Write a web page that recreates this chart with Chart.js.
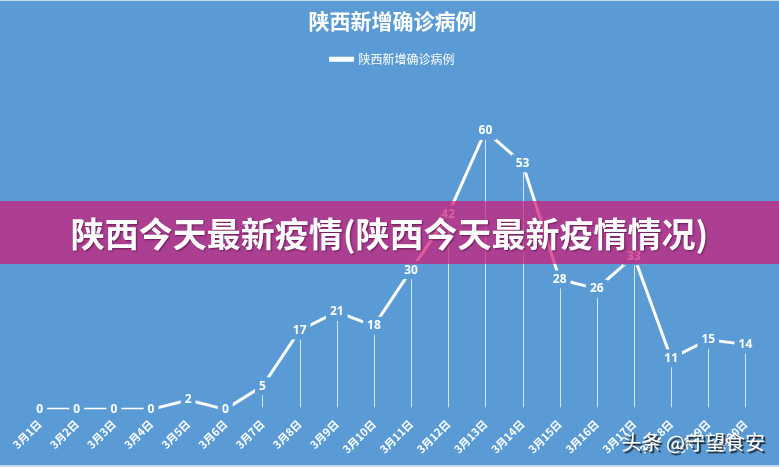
<!DOCTYPE html>
<html>
<head>
<meta charset="utf-8">
<script src="https://cdn.jsdelivr.net/npm/chart.js@4.4.0/dist/chart.umd.min.js"></script>
<style>
  html, body { margin: 0; padding: 0; background: #5b9bd5; }
  #wrap { position: relative; width: 779px; height: 467px; }
  #banner {
    position: absolute; left: 0; top: 201px; width: 779px; height: 63px;
    background: rgba(208, 24, 118, 0.7);
    color: #fff; font: bold 34px "Noto Sans CJK SC", sans-serif;
    text-align: center; line-height: 63px;
    text-shadow: 1px 1px 2px rgba(60, 0, 40, 0.6);
  }
  #mark {
    position: absolute; right: 14px; top: 427px;
    color: #fff; font: 20px "Noto Sans CJK SC", sans-serif;
    text-shadow: 2px 2px 1px #222;
  }
  .edge { position: absolute; left: 0; width: 779px; height: 2px; background: #c9d9ec; }
</style>
</head>
<body>
<div id="wrap">
  <canvas id="myChart" width="779" height="467"></canvas>
  <div class="edge" style="top:0;height:1px"></div>
  <div class="edge" style="top:465px"></div>
  <div id="banner">陕西今天最新疫情(陕西今天最新疫情情况)</div>
  <div id="mark">头条 @守望食安</div>
</div>
<script>
const days = ['3月1日', '3月2日', '3月3日', '3月4日', '3月5日', '3月6日', '3月7日', '3月8日', '3月9日', '3月10日',
              '3月11日', '3月12日', '3月13日', '3月14日', '3月15日', '3月16日', '3月17日', '3月18日', '3月19日', '3月20日'];
const newCases = [0, 0, 0, 0, 2, 0, 5, 17, 21, 18, 30, 42, 60, 53, 28, 26, 33, 11, 15, 14];

const bg = '#5b9bd5';

// thin white drop lines from each point to the bottom
const dropLines = {
    id: 'dropLines',
    beforeDatasetsDraw(chart) {
        const ctx = chart.ctx;
        const meta = chart.getDatasetMeta(0);
        const bottom = chart.scales.y.getPixelForValue(0) - 2;
        ctx.save();
        ctx.strokeStyle = 'rgba(255,255,255,0.75)';
        ctx.lineWidth = 1;
        meta.data.forEach((pt, i) => {
            if (newCases[i] <= 0) return;
            ctx.beginPath();
            ctx.moveTo(Math.round(pt.x) + 0.5, pt.y);
            ctx.lineTo(Math.round(pt.x) + 0.5, bottom);
            ctx.stroke();
        });
        ctx.restore();
    }
};

// value labels centred on the points, with a box in the background colour
const valueLabels = {
    id: 'valueLabels',
    afterDatasetsDraw(chart) {
        const ctx = chart.ctx;
        const meta = chart.getDatasetMeta(0);
        ctx.save();
        ctx.font = 'bold 12px "Noto Sans", sans-serif';
        ctx.textAlign = 'center';
        ctx.textBaseline = 'middle';
        meta.data.forEach((pt, i) => {
            const txt = String(newCases[i]);
            const w = ctx.measureText(txt).width;
            ctx.fillStyle = bg;
            ctx.fillRect(pt.x - w / 2 - 4, pt.y - 9, w + 8, 18);
            ctx.fillStyle = '#fff';
            ctx.fillText(txt, pt.x, pt.y);
        });
        ctx.restore();
    }
};

const ctx = document.getElementById('myChart').getContext('2d');
window.myChart = new Chart(ctx, {
    type: 'line',
    data: {
        labels: days,
        datasets: [{
            label: '陕西新增确诊病例',
            data: newCases,
            borderColor: '#fff',
            backgroundColor: '#fff',
            borderWidth: 3,
            pointRadius: 0,
            fill: false,
            tension: 0
        }]
    },
    options: {
        responsive: false,
        animation: false,
        layout: { padding: { left: 21, right: 15, top: 0, bottom: 11 } },
        plugins: {
            title: {
                display: true,
                text: '陕西新增确诊病例',
                color: '#fff',
                font: { size: 21, weight: 'bold', family: '"Noto Sans CJK SC", sans-serif' },
                padding: { top: 8, bottom: 8 }
            },
            legend: {
                labels: {
                    color: '#fff',
                    boxWidth: 22,
                    boxHeight: 2,
                    padding: 12,
                    font: { size: 12, family: '"Noto Sans CJK SC", sans-serif' }
                }
            },
            tooltip: { enabled: false }
        },
        scales: {
            x: {
                offset: true,
                grid: { display: false },
                border: { display: false },
                ticks: {
                    color: '#fff',
                    minRotation: 45,
                    maxRotation: 45,
                    padding: 0,
                    font: { size: 11, weight: 'bold', family: '"Noto Sans CJK SC", sans-serif' }
                }
            },
            y: {
                display: false,
                min: 0,
                max: 72
            }
        }
    },
    plugins: [dropLines, valueLabels]
});
</script>
</body>
</html>
